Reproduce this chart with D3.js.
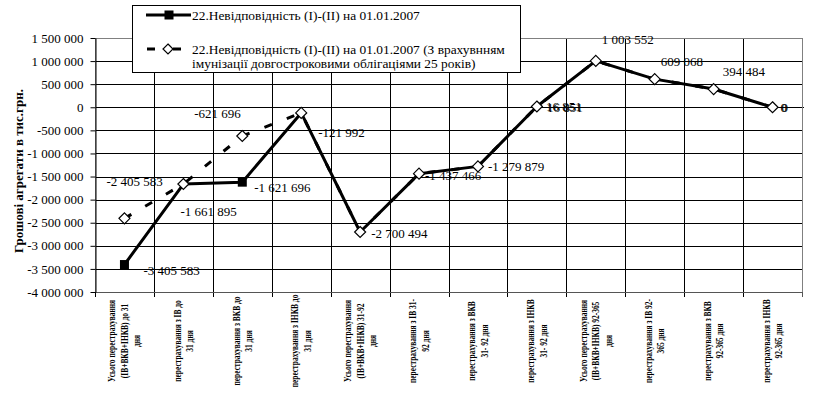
<!DOCTYPE html>
<html><head><meta charset="utf-8">
<script src="https://cdn.jsdelivr.net/npm/d3@7"></script>
<style>
body{margin:0;background:#fff}
svg{display:block}
text{font-family:"Liberation Serif","Times New Roman",serif;fill:#000}
</style>
</head><body>
<svg id="c" width="825" height="396"></svg>
<script>
// ---------------- data ----------------
const categories = [
  ["Усього перестрахування", "(ІВ+ВКВ+ІНКВ) до 31", "дня"],
  ["перестрахування з ІВ до", "31 дня"],
  ["перестрахування з ВКВ до", "31 дня"],
  ["перестрахування з ІНКВ до", "31 дня"],
  ["Усього перестрахування", "(ІВ+ВКВ+ІНКВ) 31-92", "дня"],
  ["перестрахування з ІВ 31-", "92 дня"],
  ["перестрахування з ВКВ", "31- 92 дня"],
  ["перестрахування з ІНКВ", "31- 92 дня"],
  ["Усього перестрахування", "(ІВ+ВКВ+ІНКВ) 92-365", "дня"],
  ["перестрахування з ІВ 92-", "365 дня"],
  ["перестрахування з ВКВ", "92-365 дня"],
  ["перестрахування з ІНКВ", "92-365 дня"]
];
const series1Name = ["22.Невідповідність (I)-(II) на 01.01.2007"];
const series2Name = ["22.Невідповідність (I)-(II) на 01.01.2007 (З врахувнням",
                     "імунізації довгостроковими облігаціями 25 років)"];
const series1 = [-3405583, -1661895, -1621696, -121992, -2700494, -1437466, -1279879, 16851, 1003552, 609068, 394484, 0];
const series2 = [-2405583, -1661895, -621696, -121992, -2700494, -1437466, -1279879, 16851, 1003552, 609068, 394484, 0];
const yTickValues = [1500000, 1000000, 500000, 0, -500000, -1000000, -1500000, -2000000, -2500000, -3000000, -3500000, -4000000];
const yTitle = "Грошові агрегати в тис.грн.";

// ---------------- layout config ----------------
// data-label offsets (dx to text start, dy to text middle); null = no label
const labelOff1 = [[19,6],[-3,27],[12,5],[17,20],[11,1],[6,2],[10,0],[9,0],[6,-21],[6,-18],[9,-18],[8,0]];
const labelOff2 = [[-18,-37],null,[-48,-23],null,null,null,null,[10,0.5],null,null,null,[9,0.5]];

const M = {left: 95, right: 802, top: 38, bottom: 292};
const svg = d3.select("#c");
const x = d3.scaleBand().domain(d3.range(categories.length)).range([M.left, M.right]);
const cx = i => x(i) + x.bandwidth() / 2;
const y = d3.scaleLinear().domain([yTickValues[yTickValues.length-1], yTickValues[0]]).range([M.bottom, M.top]);
const fmt = d3.formatLocale({decimal: ",", thousands: " ", grouping: [3], currency: ["", ""], minus: "-"}).format(",");

// ---------------- grid ----------------
const g = svg.append("g");
g.selectAll("line.hg").data(yTickValues.slice(1, -1)).join("line")
  .attr("x1", M.left).attr("x2", d => d === 0 ? M.right + 2 : M.right)
  .attr("y1", d => Math.round(y(d)) + 0.5).attr("y2", d => Math.round(y(d)) + 0.5)
  .attr("stroke", "#000").attr("stroke-width", 1);
g.selectAll("line.vg").data(d3.range(1, categories.length)).join("line")
  .attr("x1", i => Math.round(x(i)) + 0.5).attr("x2", i => Math.round(x(i)) + 0.5)
  .attr("y1", M.top).attr("y2", M.bottom + 5)
  .attr("stroke", "#000").attr("stroke-width", 1);
// plot border
g.append("rect").attr("x", M.left + 0.5).attr("y", M.top + 0.5)
  .attr("width", M.right - M.left).attr("height", M.bottom - M.top)
  .attr("fill", "none").attr("stroke", "#808080").attr("stroke-width", 1);
g.append("line").attr("x1", M.left).attr("x2", M.right).attr("y1", M.bottom + 0.5).attr("y2", M.bottom + 0.5)
  .attr("stroke", "#555");
g.append("line").attr("x1", M.right + 0.5).attr("x2", M.right + 0.5).attr("y1", M.bottom).attr("y2", M.bottom + 5)
  .attr("stroke", "#555");

// ---------------- y axis ----------------
const ya = svg.append("g").attr("transform", `translate(${M.left + 0.5},0)`)
  .call(d3.axisLeft(y).tickValues(yTickValues).tickSize(5).tickSizeOuter(0).tickPadding(7).tickFormat(fmt));
ya.select(".domain").attr("stroke", "#000");
ya.selectAll(".tick line").attr("stroke", "#000");
ya.selectAll(".tick text").attr("font-size", 13).attr("font-family", "Liberation Serif").attr("fill", "#111");
ya.append("line").attr("x1", 0).attr("x2", 0).attr("y1", M.bottom).attr("y2", M.bottom + 5).attr("stroke", "#000");

svg.append("text").attr("transform", "translate(18,171) rotate(-90)")
  .attr("text-anchor", "middle").attr("dy", "0.35em")
  .attr("font-size", 13).attr("font-weight", "bold").text(yTitle);

// ---------------- x category labels ----------------
const xl = svg.append("g");
const probe = xl.append("text").attr("font-size", 10).attr("font-weight", "bold").text(categories[0][0]);
const k = 82 / probe.node().getComputedTextLength();
probe.remove();
categories.forEach((lines, i) => {
  const n = lines.length;
  lines.forEach((t, j) => {
    const px = cx(i) + (j - (n - 1) / 2) * 12.5 + 3.5;
    const tx = xl.append("text").attr("transform", `translate(${px},341) rotate(-90)`)
      .attr("text-anchor", "middle").attr("font-size", 10).attr("font-weight", "bold").text(t);
    const L = tx.node().getComputedTextLength();
    tx.attr("textLength", L * k).attr("lengthAdjust", "spacingAndGlyphs");
  });
});

// ---------------- series ----------------
const line = d3.line().x((d, i) => cx(i)).y(d => y(d));
svg.append("path").datum(series1).attr("d", line)
  .attr("fill", "none").attr("stroke", "#000").attr("stroke-width", 3).attr("stroke-linejoin", "round");
svg.append("path").datum(series2).attr("d", line)
  .attr("fill", "none").attr("stroke", "#000").attr("stroke-width", 3).attr("stroke-dasharray", "8,16");

// series 1 squares (hidden where the series 2 marker sits on the same point)
svg.selectAll("rect.m1").data(series1.map((v, i) => ({v, i})).filter(d => d.v !== series2[d.i])).join("rect")
  .attr("x", d => cx(d.i) - 4.5).attr("y", d => y(d.v) - 4.5).attr("width", 9).attr("height", 9).attr("fill", "#000");
const diamond = (px, py, r) => `M${px},${py - r}L${px + r},${py}L${px},${py + r}L${px - r},${py}Z`;
svg.selectAll("path.m2").data(series2).join("path")
  .attr("d", (d, i) => diamond(cx(i), y(d), 5.5))
  .attr("fill", "#fff").attr("stroke", "#000").attr("stroke-width", 1.2);

// ---------------- data labels ----------------
function labels(data, off) {
  data.forEach((v, i) => {
    const o = off[i];
    if (!o) return;
    svg.append("text").attr("x", cx(i) + o[0]).attr("y", y(v) + o[1]).attr("dy", "0.35em")
      .attr("font-size", 13).attr("fill", "#111").text(fmt(v));
  });
}
labels(series1, labelOff1);
labels(series2, labelOff2);

// ---------------- legend ----------------
const lg = svg.append("g");
lg.append("rect").attr("x", 132.5).attr("y", 5.5).attr("width", 388).attr("height", 67)
  .attr("fill", "#fff").attr("stroke", "#000").attr("stroke-width", 1);
lg.append("line").attr("x1", 146).attr("x2", 191).attr("y1", 15).attr("y2", 15).attr("stroke", "#000").attr("stroke-width", 3);
lg.append("rect").attr("x", 164.5).attr("y", 10.5).attr("width", 9).attr("height", 9).attr("fill", "#000");
lg.append("line").attr("x1", 147).attr("x2", 181).attr("y1", 49).attr("y2", 49).attr("stroke", "#000")
  .attr("stroke-width", 3).attr("stroke-dasharray", "8,18");
lg.append("path").attr("d", diamond(168, 49, 5)).attr("fill", "#fff").attr("stroke", "#000").attr("stroke-width", 1.2);
series1Name.forEach((t, j) => lg.append("text").attr("x", 192).attr("y", 15 + j * 14).attr("dy", "0.35em").attr("font-size", 13.4).text(t));
series2Name.forEach((t, j) => lg.append("text").attr("x", 192).attr("y", 49 + j * 14).attr("dy", "0.35em").attr("font-size", 13.4).text(t));
</script>
</body></html>
